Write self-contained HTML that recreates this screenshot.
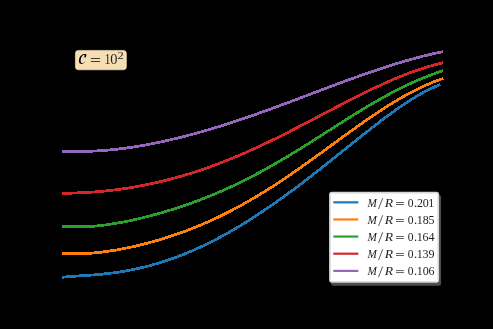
<!DOCTYPE html>
<html><head><meta charset="utf-8">
<style>
html,body{margin:0;padding:0;background:#000;width:493px;height:329px;overflow:hidden}
svg{display:block;will-change:transform}
text{font-family:"Liberation Serif",serif;fill:#1e1e1e}
</style></head>
<body>
<svg width="493" height="329" viewBox="0 0 493 329">
<rect x="0" y="0" width="493" height="329" fill="#000"/>
<g fill="none" stroke-width="2.8" stroke-linejoin="round" stroke-linecap="butt" shape-rendering="crispEdges">
<polyline points="61.8,277.28 63.8,277.08 65.8,276.90 67.8,276.73 69.8,276.57 71.8,276.42 73.8,276.27 75.8,276.14 77.8,276.00 79.8,275.87 81.8,275.74 83.8,275.61 85.8,275.48 87.8,275.35 89.8,275.20 91.8,275.06 93.8,274.90 95.8,274.74 97.8,274.57 99.8,274.39 101.8,274.20 103.8,273.99 105.8,273.78 107.8,273.55 109.8,273.31 111.8,273.06 113.8,272.80 115.8,272.52 117.8,272.23 119.8,271.92 121.8,271.60 123.8,271.27 125.8,270.92 127.8,270.56 129.8,270.19 131.8,269.80 133.8,269.39 135.8,268.98 137.8,268.54 139.8,268.09 141.8,267.63 143.8,267.15 145.8,266.66 147.8,266.15 149.8,265.62 151.8,265.08 153.8,264.53 155.8,263.96 157.8,263.37 159.8,262.77 161.8,262.15 163.8,261.51 165.8,260.86 167.8,260.19 169.8,259.51 171.8,258.81 173.8,258.10 175.8,257.37 177.8,256.62 179.8,255.86 181.8,255.08 183.8,254.29 185.8,253.48 187.8,252.65 189.8,251.81 191.8,250.95 193.8,250.08 195.8,249.19 197.8,248.29 199.8,247.37 201.8,246.44 203.8,245.49 205.8,244.53 207.8,243.55 209.8,242.56 211.8,241.55 213.8,240.53 215.8,239.49 217.8,238.44 219.8,237.37 221.8,236.29 223.8,235.20 225.8,234.09 227.8,232.97 229.8,231.84 231.8,230.69 233.8,229.53 235.8,228.36 237.8,227.17 239.8,225.97 241.8,224.76 243.8,223.53 245.8,222.30 247.8,221.05 249.8,219.79 251.8,218.51 253.8,217.23 255.8,215.93 257.8,214.62 259.8,213.30 261.8,211.97 263.8,210.63 265.8,209.28 267.8,207.91 269.8,206.54 271.8,205.16 273.8,203.76 275.8,202.36 277.8,200.94 279.8,199.52 281.8,198.09 283.8,196.64 285.8,195.19 287.8,193.73 289.8,192.27 291.8,190.79 293.8,189.30 295.8,187.81 297.8,186.31 299.8,184.80 301.8,183.29 303.8,181.76 305.8,180.23 307.8,178.70 309.8,177.16 311.8,175.61 313.8,174.05 315.8,172.49 317.8,170.93 319.8,169.36 321.8,167.78 323.8,166.20 325.8,164.62 327.8,163.03 329.8,161.44 331.8,159.85 333.8,158.25 335.8,156.65 337.8,155.05 339.8,153.45 341.8,151.85 343.8,150.24 345.8,148.64 347.8,147.04 349.8,145.43 351.8,143.83 353.8,142.23 355.8,140.63 357.8,139.03 359.8,137.44 361.8,135.85 363.8,134.26 365.8,132.68 367.8,131.10 369.8,129.53 371.8,127.97 373.8,126.41 375.8,124.86 377.8,123.32 379.8,121.79 381.8,120.27 383.8,118.76 385.8,117.26 387.8,115.78 389.8,114.30 391.8,112.85 393.8,111.40 395.8,109.97 397.8,108.56 399.8,107.17 401.8,105.80 403.8,104.44 405.8,103.11 407.8,101.80 409.8,100.51 411.8,99.25 413.8,98.01 415.8,96.80 417.8,95.62 419.8,94.46 421.8,93.34 423.8,92.25 425.8,91.20 427.8,90.17 429.8,89.19 431.8,88.24 433.8,87.33 435.8,86.47 437.8,85.65 439.8,84.87 440.5,84.61" stroke="#1f77b4"/>
<polyline points="61.8,253.65 63.8,253.65 65.8,253.65 67.8,253.65 69.8,253.65 71.8,253.65 73.8,253.65 75.8,253.65 77.8,253.65 79.8,253.65 81.8,253.65 83.8,253.59 85.8,253.49 87.8,253.37 89.8,253.24 91.8,253.09 93.8,252.93 95.8,252.75 97.8,252.55 99.8,252.34 101.8,252.10 103.8,251.86 105.8,251.60 107.8,251.32 109.8,251.03 111.8,250.72 113.8,250.40 115.8,250.06 117.8,249.72 119.8,249.35 121.8,248.98 123.8,248.59 125.8,248.19 127.8,247.78 129.8,247.36 131.8,246.93 133.8,246.48 135.8,246.02 137.8,245.55 139.8,245.08 141.8,244.58 143.8,244.08 145.8,243.57 147.8,243.05 149.8,242.51 151.8,241.96 153.8,241.41 155.8,240.84 157.8,240.26 159.8,239.67 161.8,239.07 163.8,238.45 165.8,237.83 167.8,237.19 169.8,236.54 171.8,235.88 173.8,235.21 175.8,234.53 177.8,233.83 179.8,233.13 181.8,232.41 183.8,231.67 185.8,230.93 187.8,230.18 189.8,229.41 191.8,228.63 193.8,227.83 195.8,227.03 197.8,226.21 199.8,225.38 201.8,224.54 203.8,223.68 205.8,222.81 207.8,221.93 209.8,221.04 211.8,220.13 213.8,219.21 215.8,218.28 217.8,217.33 219.8,216.37 221.8,215.40 223.8,214.41 225.8,213.41 227.8,212.40 229.8,211.38 231.8,210.34 233.8,209.29 235.8,208.23 237.8,207.15 239.8,206.06 241.8,204.96 243.8,203.85 245.8,202.72 247.8,201.58 249.8,200.43 251.8,199.27 253.8,198.09 255.8,196.90 257.8,195.70 259.8,194.49 261.8,193.27 263.8,192.03 265.8,190.79 267.8,189.53 269.8,188.26 271.8,186.99 273.8,185.70 275.8,184.40 277.8,183.09 279.8,181.77 281.8,180.44 283.8,179.10 285.8,177.76 287.8,176.40 289.8,175.04 291.8,173.66 293.8,172.28 295.8,170.90 297.8,169.50 299.8,168.10 301.8,166.69 303.8,165.27 305.8,163.85 307.8,162.43 309.8,161.00 311.8,159.56 313.8,158.12 315.8,156.67 317.8,155.22 319.8,153.77 321.8,152.32 323.8,150.86 325.8,149.40 327.8,147.94 329.8,146.48 331.8,145.02 333.8,143.56 335.8,142.10 337.8,140.64 339.8,139.18 341.8,137.72 343.8,136.27 345.8,134.82 347.8,133.37 349.8,131.92 351.8,130.48 353.8,129.05 355.8,127.62 357.8,126.19 359.8,124.78 361.8,123.36 363.8,121.96 365.8,120.57 367.8,119.18 369.8,117.80 371.8,116.44 373.8,115.08 375.8,113.74 377.8,112.40 379.8,111.08 381.8,109.77 383.8,108.47 385.8,107.19 387.8,105.92 389.8,104.66 391.8,103.43 393.8,102.20 395.8,101.00 397.8,99.81 399.8,98.63 401.8,97.48 403.8,96.34 405.8,95.22 407.8,94.13 409.8,93.05 411.8,91.99 413.8,90.96 415.8,89.94 417.8,88.95 419.8,87.98 421.8,87.03 423.8,86.11 425.8,85.21 427.8,84.33 429.8,83.48 431.8,82.65 433.8,81.85 435.8,81.07 437.8,80.32 439.8,79.60 441.8,78.91 443.2,78.44" stroke="#ff7f0e"/>
<polyline points="61.8,226.22 63.8,226.22 65.8,226.22 67.8,226.22 69.8,226.22 71.8,226.22 73.8,226.22 75.8,226.22 77.8,226.22 79.8,226.22 81.8,226.22 83.8,226.22 85.8,226.22 87.8,226.22 89.8,226.22 91.8,226.22 93.8,226.19 95.8,226.02 97.8,225.84 99.8,225.63 101.8,225.41 103.8,225.17 105.8,224.91 107.8,224.63 109.8,224.34 111.8,224.04 113.8,223.72 115.8,223.38 117.8,223.03 119.8,222.67 121.8,222.30 123.8,221.91 125.8,221.51 127.8,221.10 129.8,220.68 131.8,220.25 133.8,219.81 135.8,219.36 137.8,218.90 139.8,218.43 141.8,217.95 143.8,217.46 145.8,216.96 147.8,216.45 149.8,215.93 151.8,215.40 153.8,214.87 155.8,214.32 157.8,213.77 159.8,213.21 161.8,212.63 163.8,212.05 165.8,211.46 167.8,210.86 169.8,210.25 171.8,209.64 173.8,209.01 175.8,208.37 177.8,207.72 179.8,207.07 181.8,206.40 183.8,205.73 185.8,205.04 187.8,204.35 189.8,203.64 191.8,202.93 193.8,202.20 195.8,201.47 197.8,200.72 199.8,199.96 201.8,199.20 203.8,198.42 205.8,197.63 207.8,196.84 209.8,196.03 211.8,195.21 213.8,194.38 215.8,193.54 217.8,192.69 219.8,191.82 221.8,190.95 223.8,190.07 225.8,189.17 227.8,188.27 229.8,187.35 231.8,186.42 233.8,185.48 235.8,184.53 237.8,183.57 239.8,182.60 241.8,181.62 243.8,180.63 245.8,179.63 247.8,178.61 249.8,177.59 251.8,176.55 253.8,175.51 255.8,174.45 257.8,173.39 259.8,172.31 261.8,171.23 263.8,170.13 265.8,169.03 267.8,167.91 269.8,166.79 271.8,165.66 273.8,164.52 275.8,163.37 277.8,162.21 279.8,161.04 281.8,159.87 283.8,158.69 285.8,157.50 287.8,156.30 289.8,155.10 291.8,153.88 293.8,152.67 295.8,151.44 297.8,150.21 299.8,148.98 301.8,147.74 303.8,146.49 305.8,145.24 307.8,143.99 309.8,142.73 311.8,141.47 313.8,140.20 315.8,138.93 317.8,137.66 319.8,136.39 321.8,135.12 323.8,133.84 325.8,132.56 327.8,131.29 329.8,130.01 331.8,128.73 333.8,127.45 335.8,126.18 337.8,124.91 339.8,123.63 341.8,122.36 343.8,121.10 345.8,119.83 347.8,118.58 349.8,117.32 351.8,116.07 353.8,114.82 355.8,113.59 357.8,112.35 359.8,111.12 361.8,109.90 363.8,108.69 365.8,107.49 367.8,106.29 369.8,105.10 371.8,103.92 373.8,102.75 375.8,101.59 377.8,100.44 379.8,99.30 381.8,98.18 383.8,97.06 385.8,95.96 387.8,94.87 389.8,93.79 391.8,92.72 393.8,91.67 395.8,90.63 397.8,89.61 399.8,88.60 401.8,87.60 403.8,86.62 405.8,85.66 407.8,84.71 409.8,83.78 411.8,82.86 413.8,81.96 415.8,81.08 417.8,80.22 419.8,79.37 421.8,78.53 423.8,77.72 425.8,76.92 427.8,76.14 429.8,75.38 431.8,74.63 433.8,73.91 435.8,73.20 437.8,72.50 439.8,71.83 441.8,71.17 443.2,70.72" stroke="#2ca02c"/>
<polyline points="61.8,193.56 63.8,193.47 65.8,193.38 67.8,193.30 69.8,193.21 71.8,193.13 73.8,193.04 75.8,192.96 77.8,192.87 79.8,192.78 81.8,192.69 83.8,192.59 85.8,192.49 87.8,192.37 89.8,192.26 91.8,192.13 93.8,191.99 95.8,191.84 97.8,191.69 99.8,191.52 101.8,191.34 103.8,191.15 105.8,190.95 107.8,190.74 109.8,190.52 111.8,190.29 113.8,190.05 115.8,189.80 117.8,189.53 119.8,189.26 121.8,188.98 123.8,188.68 125.8,188.38 127.8,188.07 129.8,187.75 131.8,187.41 133.8,187.07 135.8,186.72 137.8,186.36 139.8,186.00 141.8,185.62 143.8,185.23 145.8,184.83 147.8,184.43 149.8,184.01 151.8,183.58 153.8,183.15 155.8,182.70 157.8,182.25 159.8,181.78 161.8,181.31 163.8,180.82 165.8,180.33 167.8,179.83 169.8,179.31 171.8,178.79 173.8,178.25 175.8,177.71 177.8,177.16 179.8,176.59 181.8,176.02 183.8,175.43 185.8,174.84 187.8,174.24 189.8,173.62 191.8,173.00 193.8,172.36 195.8,171.72 197.8,171.06 199.8,170.40 201.8,169.73 203.8,169.04 205.8,168.35 207.8,167.64 209.8,166.93 211.8,166.20 213.8,165.47 215.8,164.73 217.8,163.98 219.8,163.21 221.8,162.44 223.8,161.66 225.8,160.87 227.8,160.07 229.8,159.26 231.8,158.45 233.8,157.62 235.8,156.79 237.8,155.94 239.8,155.09 241.8,154.23 243.8,153.36 245.8,152.48 247.8,151.60 249.8,150.70 251.8,149.80 253.8,148.90 255.8,147.98 257.8,147.06 259.8,146.12 261.8,145.19 263.8,144.24 265.8,143.29 267.8,142.33 269.8,141.37 271.8,140.40 273.8,139.42 275.8,138.44 277.8,137.45 279.8,136.46 281.8,135.46 283.8,134.46 285.8,133.45 287.8,132.44 289.8,131.42 291.8,130.40 293.8,129.37 295.8,128.35 297.8,127.31 299.8,126.28 301.8,125.24 303.8,124.20 305.8,123.16 307.8,122.11 309.8,121.06 311.8,120.02 313.8,118.97 315.8,117.91 317.8,116.86 319.8,115.81 321.8,114.76 323.8,113.70 325.8,112.65 327.8,111.60 329.8,110.55 331.8,109.50 333.8,108.45 335.8,107.40 337.8,106.36 339.8,105.32 341.8,104.28 343.8,103.24 345.8,102.21 347.8,101.18 349.8,100.15 351.8,99.13 353.8,98.12 355.8,97.11 357.8,96.10 359.8,95.10 361.8,94.10 363.8,93.11 365.8,92.13 367.8,91.16 369.8,90.19 371.8,89.23 373.8,88.28 375.8,87.33 377.8,86.40 379.8,85.47 381.8,84.55 383.8,83.65 385.8,82.75 387.8,81.86 389.8,80.99 391.8,80.12 393.8,79.27 395.8,78.42 397.8,77.59 399.8,76.78 401.8,75.97 403.8,75.18 405.8,74.40 407.8,73.63 409.8,72.88 411.8,72.15 413.8,71.43 415.8,70.72 417.8,70.03 419.8,69.35 421.8,68.69 423.8,68.05 425.8,67.42 427.8,66.82 429.8,66.22 431.8,65.65 433.8,65.10 435.8,64.56 437.8,64.04 439.8,63.54 441.8,63.06 443.2,62.74" stroke="#d62728"/>
<polyline points="61.8,151.28 63.8,151.28 65.8,151.28 67.8,151.28 69.8,151.28 71.8,151.28 73.8,151.28 75.8,151.28 77.8,151.28 79.8,151.28 81.8,151.28 83.8,151.28 85.8,151.28 87.8,151.28 89.8,151.23 91.8,151.16 93.8,151.07 95.8,150.97 97.8,150.87 99.8,150.74 101.8,150.61 103.8,150.46 105.8,150.31 107.8,150.14 109.8,149.95 111.8,149.76 113.8,149.55 115.8,149.33 117.8,149.11 119.8,148.87 121.8,148.62 123.8,148.36 125.8,148.09 127.8,147.81 129.8,147.52 131.8,147.22 133.8,146.91 135.8,146.59 137.8,146.27 139.8,145.93 141.8,145.59 143.8,145.24 145.8,144.88 147.8,144.51 149.8,144.13 151.8,143.75 153.8,143.35 155.8,142.95 157.8,142.54 159.8,142.13 161.8,141.70 163.8,141.27 165.8,140.83 167.8,140.38 169.8,139.92 171.8,139.46 173.8,138.99 175.8,138.51 177.8,138.03 179.8,137.53 181.8,137.03 183.8,136.53 185.8,136.01 187.8,135.49 189.8,134.96 191.8,134.43 193.8,133.89 195.8,133.34 197.8,132.79 199.8,132.23 201.8,131.66 203.8,131.09 205.8,130.51 207.8,129.92 209.8,129.33 211.8,128.74 213.8,128.13 215.8,127.52 217.8,126.91 219.8,126.29 221.8,125.67 223.8,125.04 225.8,124.40 227.8,123.76 229.8,123.11 231.8,122.46 233.8,121.81 235.8,121.14 237.8,120.48 239.8,119.81 241.8,119.14 243.8,118.46 245.8,117.77 247.8,117.09 249.8,116.40 251.8,115.70 253.8,115.00 255.8,114.30 257.8,113.59 259.8,112.88 261.8,112.17 263.8,111.46 265.8,110.74 267.8,110.01 269.8,109.29 271.8,108.56 273.8,107.83 275.8,107.10 277.8,106.36 279.8,105.62 281.8,104.88 283.8,104.14 285.8,103.40 287.8,102.65 289.8,101.91 291.8,101.16 293.8,100.41 295.8,99.66 297.8,98.90 299.8,98.15 301.8,97.40 303.8,96.64 305.8,95.89 307.8,95.13 309.8,94.37 311.8,93.62 313.8,92.86 315.8,92.11 317.8,91.35 319.8,90.60 321.8,89.84 323.8,89.09 325.8,88.34 327.8,87.58 329.8,86.83 331.8,86.08 333.8,85.34 335.8,84.59 337.8,83.85 339.8,83.11 341.8,82.37 343.8,81.63 345.8,80.89 347.8,80.16 349.8,79.43 351.8,78.71 353.8,77.98 355.8,77.26 357.8,76.55 359.8,75.84 361.8,75.13 363.8,74.42 365.8,73.72 367.8,73.02 369.8,72.33 371.8,71.65 373.8,70.96 375.8,70.29 377.8,69.61 379.8,68.95 381.8,68.28 383.8,67.63 385.8,66.98 387.8,66.34 389.8,65.70 391.8,65.07 393.8,64.44 395.8,63.82 397.8,63.21 399.8,62.61 401.8,62.01 403.8,61.42 405.8,60.84 407.8,60.27 409.8,59.70 411.8,59.15 413.8,58.60 415.8,58.06 417.8,57.53 419.8,57.00 421.8,56.49 423.8,55.98 425.8,55.49 427.8,55.00 429.8,54.53 431.8,54.06 433.8,53.61 435.8,53.16 437.8,52.73 439.8,52.30 441.8,51.89 443.2,51.61" stroke="#9467bd"/>
</g>
<!-- label box -->
<rect x="75.4" y="50.4" width="51.0" height="19.4" rx="3" fill="#f5deb3" stroke="#fbe7c2" stroke-width="0.6"/>
<path transform="translate(76,52) scale(0.04255)" d="M240 48 C200 40 140 50 105 95 C75 135 60 200 75 245 C90 285 150 290 190 260 L240 210 C200 250 150 270 125 250 C100 225 105 160 130 115 C150 80 185 65 205 75 C190 95 195 130 210 135 C235 130 250 85 240 48 Z" fill="#000"/>
<rect x="90.9" y="58.05" width="9.2" height="0.85" fill="#1e1e1e"/>
<rect x="90.9" y="61.0" width="9.2" height="0.85" fill="#1e1e1e"/>
<text transform="translate(104.53,63.70) scale(0.848,1)" font-size="14.4">1</text>
<text x="110.15" y="63.70" font-size="14.4">0</text>
<text transform="translate(117.45,58.60) scale(1.299,1)" font-size="9.6">2</text>
<!-- legend -->
<rect x="331.1" y="194.7" width="110" height="91" rx="2.5" fill="#4d4d4d"/>
<rect x="329.9" y="192.6" width="108.4" height="89.4" rx="2" fill="#fff" stroke="#d6d6d6" stroke-width="1.6"/>
<g stroke-width="2.2">
<line x1="333.3" y1="202.35" x2="358.3" y2="202.35" stroke="#1f77b4"/>
<line x1="333.3" y1="219.45" x2="358.3" y2="219.45" stroke="#ff7f0e"/>
<line x1="333.3" y1="236.55" x2="358.3" y2="236.55" stroke="#2ca02c"/>
<line x1="333.3" y1="253.7" x2="358.3" y2="253.7" stroke="#d62728"/>
<line x1="333.3" y1="270.9" x2="358.3" y2="270.9" stroke="#9467bd"/>
</g>
<g>
<text transform="translate(367.43,206.80) scale(0.936,1)" font-size="12" font-style="italic">M</text>
<line x1="382.7" y1="198.20" x2="378.5" y2="209.00" stroke="#222" stroke-width="0.75"/>
<text transform="translate(384.67,206.80) scale(1.140,1)" font-size="12" font-style="italic">R</text>
<rect x="396.0" y="202.15" width="7.9" height="0.7" fill="#222"/>
<rect x="396.0" y="204.15" width="7.9" height="0.7" fill="#222"/>
<text transform="translate(407.66,206.80) scale(0.963,1)" font-size="12">0</text>
<text transform="translate(413.96,206.80) scale(1.058,1)" font-size="12">.</text>
<text x="416.89" y="206.80" font-size="12">2</text>
<text x="422.68" y="206.80" font-size="12">0</text>
<text x="428.36" y="206.80" font-size="12">1</text>
<text transform="translate(367.43,223.85) scale(0.936,1)" font-size="12" font-style="italic">M</text>
<line x1="382.7" y1="215.25" x2="378.5" y2="226.05" stroke="#222" stroke-width="0.75"/>
<text transform="translate(384.67,223.85) scale(1.140,1)" font-size="12" font-style="italic">R</text>
<rect x="396.0" y="219.20" width="7.9" height="0.7" fill="#222"/>
<rect x="396.0" y="221.20" width="7.9" height="0.7" fill="#222"/>
<text transform="translate(407.66,223.85) scale(0.963,1)" font-size="12">0</text>
<text transform="translate(413.96,223.85) scale(1.058,1)" font-size="12">.</text>
<text x="416.66" y="223.85" font-size="12">1</text>
<text x="422.68" y="223.85" font-size="12">8</text>
<text x="428.41" y="223.85" font-size="12">5</text>
<text transform="translate(367.43,240.90) scale(0.936,1)" font-size="12" font-style="italic">M</text>
<line x1="382.7" y1="232.30" x2="378.5" y2="243.10" stroke="#222" stroke-width="0.75"/>
<text transform="translate(384.67,240.90) scale(1.140,1)" font-size="12" font-style="italic">R</text>
<rect x="396.0" y="236.25" width="7.9" height="0.7" fill="#222"/>
<rect x="396.0" y="238.25" width="7.9" height="0.7" fill="#222"/>
<text transform="translate(407.66,240.90) scale(0.963,1)" font-size="12">0</text>
<text transform="translate(413.96,240.90) scale(1.058,1)" font-size="12">.</text>
<text x="416.66" y="240.90" font-size="12">1</text>
<text x="422.60" y="240.90" font-size="12">6</text>
<text x="428.50" y="240.90" font-size="12">4</text>
<text transform="translate(367.43,257.95) scale(0.936,1)" font-size="12" font-style="italic">M</text>
<line x1="382.7" y1="249.35" x2="378.5" y2="260.15" stroke="#222" stroke-width="0.75"/>
<text transform="translate(384.67,257.95) scale(1.140,1)" font-size="12" font-style="italic">R</text>
<rect x="396.0" y="253.30" width="7.9" height="0.7" fill="#222"/>
<rect x="396.0" y="255.30" width="7.9" height="0.7" fill="#222"/>
<text transform="translate(407.66,257.95) scale(0.963,1)" font-size="12">0</text>
<text transform="translate(413.96,257.95) scale(1.058,1)" font-size="12">.</text>
<text x="416.66" y="257.95" font-size="12">1</text>
<text x="422.62" y="257.95" font-size="12">3</text>
<text x="428.58" y="257.95" font-size="12">9</text>
<text transform="translate(367.43,275.00) scale(0.936,1)" font-size="12" font-style="italic">M</text>
<line x1="382.7" y1="266.40" x2="378.5" y2="277.20" stroke="#222" stroke-width="0.75"/>
<text transform="translate(384.67,275.00) scale(1.140,1)" font-size="12" font-style="italic">R</text>
<rect x="396.0" y="270.35" width="7.9" height="0.7" fill="#222"/>
<rect x="396.0" y="272.35" width="7.9" height="0.7" fill="#222"/>
<text transform="translate(407.66,275.00) scale(0.963,1)" font-size="12">0</text>
<text transform="translate(413.96,275.00) scale(1.058,1)" font-size="12">.</text>
<text x="416.66" y="275.00" font-size="12">1</text>
<text x="422.68" y="275.00" font-size="12">0</text>
<text x="428.45" y="275.00" font-size="12">6</text>
</g>
</svg>
</body></html>
